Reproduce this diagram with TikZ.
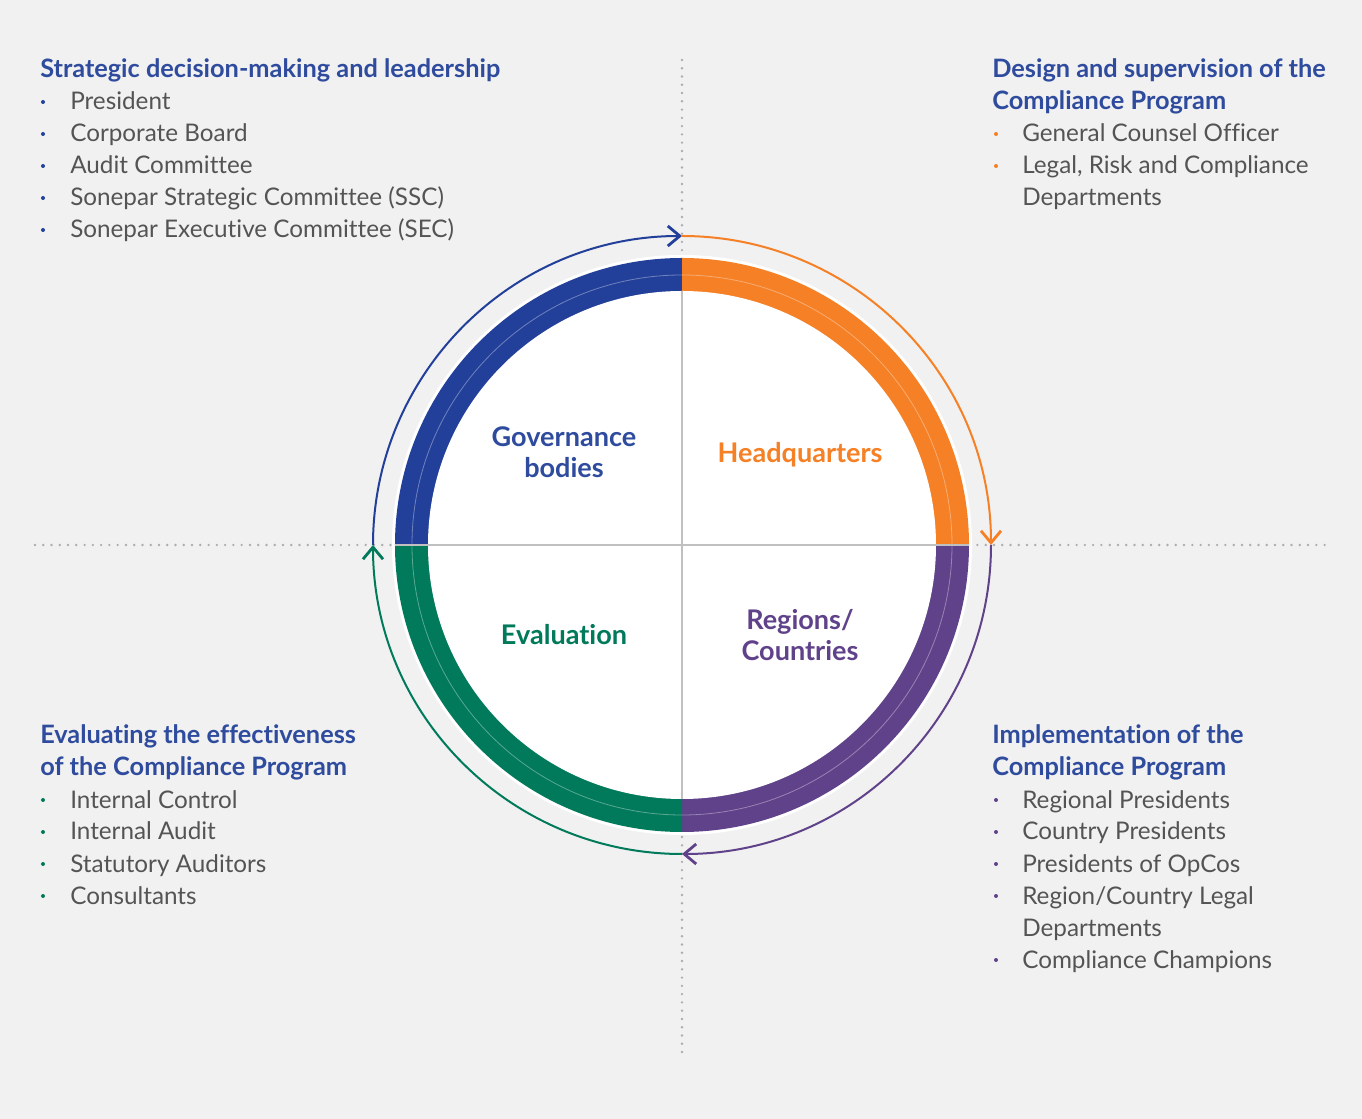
\documentclass[tikz,border=0pt]{standalone}
\usepackage{fontspec}
\setmainfont{Lato}[Ligatures=NoCommon]
\usetikzlibrary{arrows.meta}
\definecolor{govBlue}{RGB}{34,64,153}
\definecolor{hqOrange}{RGB}{245,128,37}
\definecolor{regPurple}{RGB}{96,66,138}
\definecolor{evalGreen}{RGB}{0,122,90}
\definecolor{headBlue}{RGB}{46,75,158}
\definecolor{textGrey}{RGB}{84,84,84}
\definecolor{bgGrey}{RGB}{241,241,241}
\definecolor{axisGrey}{RGB}{192,192,192}
\definecolor{dotGrey}{RGB}{172,172,172}
\tikzstyle{head}=[anchor=base west, inner sep=0pt, text=headBlue, font=\fontsize{19}{24}\selectfont\bfseries]
\tikzstyle{entry}=[anchor=base west, inner sep=0pt, text=textGrey, font=\fontsize{18.2}{24}\selectfont]
\tikzstyle{bullet}=[circle, inner sep=0pt, minimum size=3pt]
\tikzstyle{quad}=[anchor=base, inner sep=0pt, font=\fontsize{20.3}{24}\selectfont\bfseries]
\tikzstyle{flow}=[line width=1.5pt, -{Straight Barb[length=9pt, width=15pt, line width=2.1pt]}]
\tikzstyle{guide}=[dotGrey, line width=2pt, line cap=round, dash pattern=on 0pt off 6.2pt]

\begin{document}
\begin{tikzpicture}[x=0.75pt, y=0.75pt]
	% Background
	\fill[bgGrey] (-682,-574) rectangle (680,545);
	\useasboundingbox (-682,-574) rectangle (680,545);

	% Dotted axes
	\draw[guide] (-647,0) -- (643,0);
	\draw[guide] (0,485) -- (0,-513);

	% Cycle arrows
	\draw[flow, govBlue] (180:309) arc[start angle=180, end angle=90, radius=309];
	\draw[flow, hqOrange] (90:309) arc[start angle=90, end angle=0, radius=309];
	\draw[flow, regPurple] (0:309) arc[start angle=0, end angle=-90, radius=309];
	\draw[flow, evalGreen] (-90:309) arc[start angle=-90, end angle=-180, radius=309];

	% Coloured band of the wheel
	\fill[white] (0,0) circle[radius=290];
	\fill[govBlue] (0,0) -- (180:287) arc[start angle=180, end angle=90, radius=287] -- cycle;
	\fill[hqOrange] (0,0) -- (90:287) arc[start angle=90, end angle=0, radius=287] -- cycle;
	\fill[regPurple] (0,0) -- (0:287) arc[start angle=0, end angle=-90, radius=287] -- cycle;
	\fill[evalGreen] (0,0) -- (-90:287) arc[start angle=-90, end angle=-180, radius=287] -- cycle;
	\draw[white, opacity=0.35, line width=0.6pt] (0,0) circle[radius=270];
	\fill[white] (0,0) circle[radius=254];
	\draw[axisGrey, line width=1.5pt] (-287,0) -- (287,0);
	\draw[axisGrey, line width=1.5pt] (0,254) -- (0,-254);

	% Quadrant labels
	\node[quad, text=headBlue] (gov-1) at (-118,98) {Governance};
	\node[quad, text=headBlue] (gov-2) at (-118,67) {bodies};
	\node[quad, text=hqOrange] (hq-1) at (118,82) {Headquarters};
	\node[quad, text=evalGreen] (eval-1) at (-118,-100) {Evaluation};
	\node[quad, text=regPurple] (reg-1) at (118,-85) {Regions/};
	\node[quad, text=regPurple] (reg-2) at (118,-116) {Countries};

	% Strategic decision-making
	\node[head] (lead-head) at (-642,467) {Strategic decision-making and leadership};
	\foreach \y/\txt [count=\i] in {435/President, 403/Corporate Board, 371/Audit Committee, 339/Sonepar Strategic Committee (SSC), 307/Sonepar Executive Committee (SEC)}{
		\node[entry] (lead-\i) at (-612,\y) {\txt};
		\node[bullet, fill=govBlue] (lead-dot-\i) at (-639,\y+8) {};
	}

	% Design and supervision
	\node[head] (design-head-1) at (310,467) {Design and supervision of the};
	\node[head] (design-head-2) at (310,435) {Compliance Program};
	\foreach \y/\txt [count=\i] in {403/General Counsel Officer, 371/{Legal, Risk and Compliance}, 339/Departments}{
		\node[entry] (design-\i) at (340,\y) {\txt};
	}
	\foreach \y [count=\i] in {403, 371}{ \node[bullet, fill=hqOrange] (design-dot-\i) at (314,\y+8) {}; }

	% Evaluating the effectiveness
	\node[head] (evalu-head-1) at (-642,-199) {Evaluating the effectiveness};
	\node[head] (evalu-head-2) at (-642,-231) {of the Compliance Program};
	\foreach \y/\txt [count=\i] in {-263/Internal Control, -295/Internal Audit, -327/Statutory Auditors, -359/Consultants}{
		\node[entry] (evalu-\i) at (-612,\y) {\txt};
		\node[bullet, fill=evalGreen] (evalu-dot-\i) at (-639,\y+8) {};
	}

	% Implementation
	\node[head] (impl-head-1) at (310,-199) {Implementation of the};
	\node[head] (impl-head-2) at (310,-231) {Compliance Program};
	\foreach \y/\txt [count=\i] in {-263/Regional Presidents, -295/Country Presidents, -327/Presidents of OpCos, -359/Region\slash Country Legal, -391/Departments, -423/Compliance Champions}{
		\node[entry] (impl-\i) at (340,\y) {\txt};
	}
	\foreach \y [count=\i] in {-263, -295, -327, -359, -423}{ \node[bullet, fill=regPurple] (impl-dot-\i) at (314,\y+8) {}; }
\end{tikzpicture}
\end{document}
